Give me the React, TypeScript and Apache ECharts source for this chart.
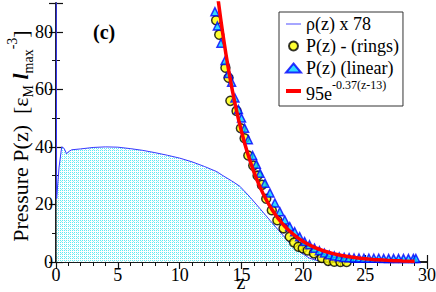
import React, { useEffect, useRef } from "react";
import * as echarts from "echarts";

// density profile rho(z) x 78
const rhoZ = [0, 0.05, 0.25, 0.46, 0.65, 0.86, 1.0, 1.27, 2, 3, 4, 5, 6, 7, 8, 9, 10, 11, 12, 13, 13.5, 14.2, 14.87, 15.7, 16.5, 17.3, 18.1, 18.9, 19.7, 20.5, 21.3, 22, 29];
const rhoV = [150, 22, 33, 40, 39.5, 37.6, 38.3, 39, 39.3, 39.8, 40, 39.9, 39.4, 38.8, 38, 37.1, 36.1, 34.8, 33.2, 31.4, 30, 28.2, 26.3, 22.5, 18.5, 14.5, 10.5, 6.6, 3.6, 1.3, 0.3, 0, 0];

// P(z) - (rings)
const ringsZ = [12.95, 13.2, 13.7, 13.95, 14.1, 14.6, 14.95, 15.25, 15.55, 15.95, 16.3, 16.65, 17.0, 17.45, 17.9, 18.4, 18.9, 19.25, 19.6, 19.95, 20.35, 20.85, 21.5, 22.0, 22.5, 23.0, 23.5];
const ringsP = [84, 79, 67.5, 64, 56, 52.5, 46.5, 43, 37, 33.5, 30, 26.8, 22, 18, 14.5, 11.7, 8.8, 6.8, 5.3, 4.8, 4.0, 3.0, 1.4, 0.4, 0.1, 0, 0];

// P(z) (linear)
const linZ = [12.85, 13.05, 13.34, 13.67, 13.95, 14.2, 14.47, 14.75, 15.0, 15.25, 15.55, 15.9, 16.2, 16.5, 16.9, 17.3, 17.7, 18.1, 18.5, 18.9, 19.3, 19.7, 20.1, 20.5, 20.9, 21.3, 21.7, 22.1, 22.5, 22.9, 23.3, 23.7, 24.1, 24.5, 24.9, 25.3, 25.7, 26.1, 26.5, 26.9, 27.3, 27.7, 28.1, 28.5, 28.9, 29.1];
const linP = [87, 82, 76, 70, 65.5, 62.5, 57, 53, 50, 46.5, 42.5, 37, 34, 30.8, 27.4, 24, 20.5, 17.5, 14.6, 12.3, 10.5, 8.8, 7.1, 6.0, 4.8, 3.9, 3.1, 2.5, 2.1, 1.8, 1.6, 1.5, 1.4, 1.4, 1.3, 1.3, 1.3, 1.3, 1.2, 1.2, 1.2, 1.2, 1.2, 1.2, 1.2, 1.2];

// fit 95 e^{-0.37(z-13)}
const fitZ = [13, 13.5, 14, 14.5, 15, 15.5, 16, 16.5, 17, 17.5, 18, 18.5, 19, 19.5, 20, 20.5, 21, 21.5, 22, 22.5, 23, 24, 25, 26, 27, 28, 29];
const fitP = [95, 78.96, 65.62, 54.54, 45.33, 37.67, 31.31, 26.02, 21.63, 17.97, 14.94, 12.41, 10.32, 8.58, 7.13, 5.92, 4.92, 4.09, 3.4, 2.83, 2.35, 1.62, 1.12, 0.77, 0.53, 0.37, 0.26];

const xTickLabels = ["0", "5", "10", "15", "20", "25", "30"];
const yTickLabels = ["0", "20", "40", "60", "80"];

const FONT = "Liberation Serif";

function makePattern() {
  const c = document.createElement("canvas");
  c.width = 4;
  c.height = 4;
  const ctx = c.getContext("2d")!;
  ctx.fillStyle = "#ffffff";
  ctx.fillRect(0, 0, 4, 4);
  ctx.fillStyle = "#5eeaf2";
  for (let x = 0; x < 4; x++) {
    for (let y = 0; y < 4; y++) {
      if ((x + y) % 2 === 0 && x !== 3 && y !== 3) ctx.fillRect(x, y, 1, 1);
    }
  }
  ctx.fillStyle = "#9af2f6";
  ctx.fillRect(1, 1, 1, 1);
  return c;
}

export default function App() {
  const ref = useRef<HTMLDivElement>(null);
  useEffect(() => {
    document.body.style.margin = "0";
    const chart = echarts.init(ref.current!, undefined, { renderer: "svg" });
    const pat = makePattern();
    const zip = (a: number[], b: number[]) => a.map((v, i) => [v, b[i]]);
    const axisCommon = {
      type: "value" as const,
      axisLine: { show: true, lineStyle: { color: "#111", width: 1.5 } },
      axisTick: { show: true, inside: true, length: 7, lineStyle: { color: "#111", width: 1.2 } },
      minorTick: { show: true, length: 4, lineStyle: { color: "#111", width: 1 } },
      splitLine: { show: false },
    };
    const option: any = {
      animation: false,
      backgroundColor: "#fff",
      textStyle: { fontFamily: FONT },
      grid: { left: 56, right: 9, top: 3, bottom: 30, outerBoundsMode: "none" },
      xAxis: [
        {
          ...axisCommon,
          min: 0,
          max: 30,
          interval: 5,
          minorTick: { ...axisCommon.minorTick, splitNumber: 5 },
          axisLabel: {
            fontFamily: FONT,
            fontSize: 18,
            color: "#000",
            margin: 4,
            formatter: (v: number) => (xTickLabels.includes(String(v)) ? String(v) : ""),
          },
        },
        {
          ...axisCommon,
          position: "top",
          min: 0,
          max: 30,
          interval: 5,
          minorTick: { ...axisCommon.minorTick, splitNumber: 5 },
          axisLabel: { show: false },
        },
      ],
      yAxis: [
        {
          ...axisCommon,
          min: 0,
          max: 90,
          interval: 20,
          minorTick: { ...axisCommon.minorTick, splitNumber: 2 },
          axisLabel: {
            fontFamily: FONT,
            fontSize: 18,
            color: "#000",
            margin: 3,
            formatter: (v: number) => (yTickLabels.includes(String(v)) ? String(v) : ""),
          },
        },
        {
          ...axisCommon,
          position: "right",
          min: 0,
          max: 90,
          interval: 20,
          minorTick: { ...axisCommon.minorTick, splitNumber: 2 },
          axisLabel: { show: false },
        },
      ],
      legend: {
        orient: "vertical",
        left: 279,
        top: 12,
        padding: [1, 4, 3, 6],
        itemGap: 0,
        itemWidth: 15,
        itemHeight: 9,
        borderColor: "#333",
        borderWidth: 1,
        borderRadius: 0,
        backgroundColor: "#fff",
        textStyle: {
          fontFamily: FONT,
          fontSize: 18,
          color: "#000",
          lineHeight: 22,
          rich: {
            n: { fontFamily: FONT, fontSize: 18, color: "#000", lineHeight: 24, verticalAlign: "bottom" },
            e: { fontFamily: FONT, fontSize: 12, color: "#000", lineHeight: 12, verticalAlign: "top" },
          },
        },
        formatter: (name: string) => (name === "fit" ? "{n|95e}{e|-0.37(z-13)}" : name),
        data: [
          { name: "ρ(z) x 78", icon: "path://M0,0H15V2H0Z", itemStyle: { color: "#a6a6ff" } },
          { name: "P(z) - (rings)" },
          { name: "P(z) (linear)" },
          { name: "fit", icon: "path://M0,0H15V4H0Z", itemStyle: { color: "#ff0000" } },
        ],
      },
      graphic: [
        {
          type: "text",
          left: 93,
          top: 22,
          style: { text: "(c)", font: `bold 20px ${FONT}`, fill: "#000" },
        },
        {
          type: "text",
          x: 241,
          y: 292,
          style: {
            text: "z",
            font: `20px ${FONT}`,
            fill: "#000",
            align: "center",
            verticalAlign: "bottom",
          },
        },
        {
          type: "text",
          x: 20,
          y: 136,
          rotation: Math.PI / 2,
          style: {
            text: "{a|Pressure P(z)  [ε}{s|M}{b| l}{s|max}{p|-3}{a|]}",
            font: `22px ${FONT}`,
            fill: "#000",
            align: "center",
            verticalAlign: "middle",
            rich: {
              a: { fontFamily: FONT, fontSize: 22, fill: "#000", lineHeight: 30 },
              b: { fontFamily: FONT, fontSize: 22, fill: "#000", fontWeight: "bold", fontStyle: "italic", lineHeight: 30 },
              s: { fontFamily: FONT, fontSize: 14, fill: "#000", verticalAlign: "bottom", lineHeight: 14 },
              p: { fontFamily: FONT, fontSize: 14, fill: "#000", verticalAlign: "top", lineHeight: 14 },
            },
          },
        },
      ],
      series: [
        {
          name: "ρ(z) x 78",
          type: "line",
          data: zip(rhoZ, rhoV),
          symbol: "none",
          lineStyle: { color: "#3838ff", width: 1 },
          itemStyle: { color: "#3838ff" },
          areaStyle: {
            color: { image: pat, repeat: "repeat", imageWidth: 4, imageHeight: 4 },
            opacity: 1,
          },
          clip: true,
          z: 1,
        },
        {
          name: "P(z) - (rings)",
          type: "scatter",
          data: zip(ringsZ, ringsP),
          symbol: "circle",
          symbolSize: 9,
          itemStyle: { color: "#ffff00", borderColor: "#000", borderWidth: 1.5 },
          clip: true,
          z: 2,
        },
        {
          name: "P(z) (linear)",
          type: "scatter",
          data: zip(linZ, linP),
          symbol: "triangle",
          symbolSize: 8,
          itemStyle: { color: "#00d0ff", borderColor: "#0000ff", borderWidth: 1.5 },
          clip: true,
          z: 3,
        },
        {
          name: "fit",
          type: "line",
          data: zip(fitZ, fitP),
          symbol: "none",
          smooth: true,
          lineStyle: { color: "#ff0000", width: 3.5 },
          itemStyle: { color: "#ff0000" },
          clip: true,
          z: 4,
        },
      ],
    };
    chart.setOption(option);
    return () => chart.dispose();
  }, []);
  return (
    <div
      ref={ref}
      style={{ position: "absolute", left: 0, top: 0, width: 436, height: 292 }}
    />
  );
}
